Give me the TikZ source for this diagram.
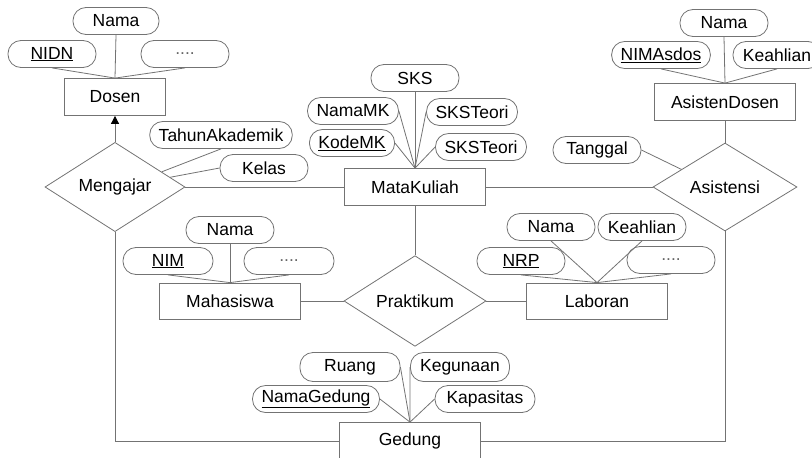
\documentclass[tikz,border=0pt]{standalone}
\usepackage{fontspec}
\setmainfont{Liberation Sans}
\usetikzlibrary{arrows.meta, positioning, shapes.geometric}

\begin{document}
\fontsize{17.5}{20}\selectfont
\begin{tikzpicture}[x=1pt,y=-1pt,node distance=2cm,auto,line width=0.8pt,
    entity/.style={draw=black!55, rectangle, minimum width=141pt, minimum height=37pt, inner sep=2pt},
    relation/.style={draw=black!55, diamond, minimum width=142pt, minimum height=88pt, inner sep=0pt},
    attrib/.style={draw=black!55, rectangle, rounded corners=13pt, minimum width=88pt, minimum height=27pt, inner xsep=9pt, inner ysep=2pt},
    link/.style={draw=black!55}]
    \useasboundingbox (0,0) rectangle (812,458);

    % Nodes
    \node (mengajar) [relation, minimum width=140pt] at (115,187) {Mengajar};
    \node (dosen) [entity, minimum width=101pt, above of=mengajar, node distance=90pt] {Dosen};
    \node (matakuliah) [entity, right of=mengajar, node distance=300pt] {MataKuliah};
    \node (asistensi) [relation, minimum width=144pt, right of=matakuliah, node distance=310pt] {Asistensi};
    \node (asistendosen) [entity, above of=asistensi, node distance=85pt] {AsistenDosen};
    \node (praktikum) [relation, minimum height=74pt, below of=matakuliah, node distance=114pt] {Praktikum};
    \node (mahasiswa) [entity, minimum height=36pt, left of=praktikum, node distance=185pt] {Mahasiswa};
    \node (laboran) [entity, minimum height=36pt, right of=praktikum, node distance=182pt] {Laboran};
    \node (gedung) [entity] at (410,441) {Gedung};

    % Attributes
    \node (dnama) [attrib, minimum width=86pt] at (116,21) {Nama};
    \node (nidn) [attrib] at (52,54) {\underline{NIDN}};
    \node (dlain) [attrib] at (185,54) {\textcolor{black!60}{....}};
    \node (tahun) [attrib] at (221,135) {TahunAkademik};
    \node (kelas) [attrib] at (264,168) {Kelas};
    \node (sks) [attrib] at (415,78) {SKS};
    \node (namamk) [attrib] at (353,111) {NamaMK};
    \node (kodemk) [attrib, minimum width=81pt] at (352,143) {\underline{KodeMK}};
    \node (teori) [attrib] at (472,112) {SKSTeori};
    \node (teoridua) [attrib] at (481,147) {SKSTeori};
    \node (anama) [attrib] at (724,23) {Nama};
    \node (nimasdos) [attrib, minimum width=97pt] at (661,55) {\underline{NIMAsdos}};
    \node (akeahlian) [attrib] at (777,55) {Keahlian};
    \node (tanggal) [attrib] at (597,150) {Tanggal};
    \node (mnama) [attrib] at (230,230) {Nama};
    \node (nim) [attrib, minimum width=90pt] at (168,261) {\underline{NIM}};
    \node (mlain) [attrib, minimum width=90pt] at (289,261) {\textcolor{black!60}{....}};
    \node (lnama) [attrib] at (551,227) {Nama};
    \node (lkeahlian) [attrib] at (642,227) {Keahlian};
    \node (nrp) [attrib] at (521,261) {\underline{NRP}};
    \node (llain) [attrib] at (671,260) {\textcolor{black!60}{....}};
    \node (ruang) [attrib, minimum width=100pt, minimum height=29pt] at (350,367) {Ruang};
    \node (kegunaan) [attrib, minimum width=99pt, minimum height=29pt] at (460,367) {Kegunaan};
    \node (namagedung) [attrib] at (316,399) {\underline{NamaGedung}};
    \node (kapasitas) [attrib, minimum width=100pt] at (485,399) {Kapasitas};

    % Connections
    \draw[link, -{Triangle[width=8pt,length=8pt,color=black]}] (mengajar) -- (dosen);
    \draw[link] (mengajar) -- (matakuliah);
    \draw[link] (matakuliah) -- (asistensi);
    \draw[link] (asistendosen) -- (asistensi);
    \draw[link] (matakuliah) -- (praktikum);
    \draw[link] (mahasiswa) -- (praktikum);
    \draw[link] (praktikum) -- (laboran);
    \draw[link] (mengajar.south) |- (gedung.west);
    \draw[link] (asistensi.south) |- (gedung.east);

    % Attribute links
    \draw[link] (dnama.south) -- (dosen.north);
    \draw[link] (nidn.south) -- (dosen.north);
    \draw[link] (dlain.south) -- (dosen.north);
    \draw[link] (tahun.south) -- (mengajar.18);
    \draw[link] (kelas.west) -- (mengajar.10);
    \draw[link] (sks.south) -- (matakuliah.north);
    \draw[link] (namamk.east) -- (matakuliah.north);
    \draw[link] (kodemk.east) -- (matakuliah.north);
    \draw[link] (teori.west) -- (matakuliah.north);
    \draw[link] (teoridua.west) -- (matakuliah.north);
    \draw[link] (anama.south) -- (asistendosen.north);
    \draw[link] (nimasdos.south) -- (asistendosen.north);
    \draw[link] (akeahlian.south) -- (asistendosen.north);
    \draw[link] (tanggal.east) -- (asistensi.158);
    \draw[link] (mnama.south) -- (mahasiswa.north);
    \draw[link] (nim.south) -- (mahasiswa.north);
    \draw[link] (mlain.south) -- (mahasiswa.north);
    \draw[link] (lnama.south) -- (laboran.north);
    \draw[link] (lkeahlian.south) -- (laboran.north);
    \draw[link] (nrp.south) -- (laboran.north);
    \draw[link] (llain.south) -- (laboran.north);
    \draw[link] (ruang.east) -- (gedung.north);
    \draw[link] (kegunaan.west) -- (gedung.north);
    \draw[link] (namagedung.east) -- (gedung.north);
    \draw[link] (kapasitas.west) -- (gedung.north);
\end{tikzpicture}
\end{document}
